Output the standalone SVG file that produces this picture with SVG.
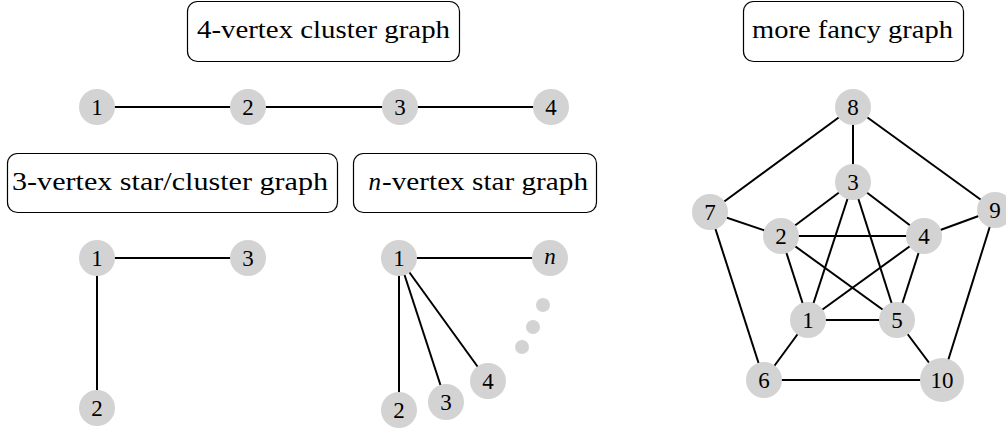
<svg xmlns="http://www.w3.org/2000/svg" width="1006" height="432" viewBox="0 0 1006 432">
<style>
.box{fill:#fff;stroke:#000;stroke-width:1.2}
.title{font-family:'Liberation Serif','Times New Roman','DejaVu Serif',serif;font-size:25px;fill:#000}
.v{fill:#d3d3d3}
.lbl{font-family:'Liberation Serif','Times New Roman','DejaVu Serif',serif;font-size:23px;fill:#000;text-anchor:middle}
.e line{stroke:#000;stroke-width:2}
</style>
<rect width="1006" height="432" fill="#fff"/>
<g id="title1"><rect class="box" x="187.5" y="1.5" width="272" height="60" rx="10"/><text class="title" x="197" y="38" textLength="253" lengthAdjust="spacingAndGlyphs">4-vertex cluster graph</text></g>
<g id="title2"><rect class="box" x="7.5" y="153.5" width="330" height="59" rx="10"/><text class="title" x="12" y="190" textLength="316" lengthAdjust="spacingAndGlyphs">3-vertex star/cluster graph</text></g>
<g id="title3"><rect class="box" x="353.5" y="153.5" width="243" height="59" rx="10"/><text class="title" x="381" y="190" font-style="italic" text-anchor="end">n</text><text class="title" x="382" y="190" textLength="206" lengthAdjust="spacingAndGlyphs">-vertex star graph</text></g>
<g id="title4"><rect class="box" x="743.5" y="1.5" width="220" height="60" rx="10"/><text class="title" x="752" y="38" textLength="201" lengthAdjust="spacingAndGlyphs">more fancy graph</text></g>
<g id="connectors" class="e">
<line x1="97" y1="107" x2="248" y2="107"/>
<line x1="248" y1="107" x2="400" y2="107"/>
<line x1="400" y1="107" x2="551" y2="107"/>
<line x1="97" y1="258" x2="248" y2="258"/>
<line x1="97" y1="258" x2="97" y2="408"/>
<line x1="399" y1="258" x2="550" y2="258"/>
<line x1="399" y1="258" x2="399" y2="410"/>
<line x1="399" y1="258" x2="446" y2="402"/>
<line x1="399" y1="258" x2="488" y2="381"/>
<line x1="853" y1="107" x2="853" y2="182"/>
<line x1="853" y1="107" x2="710" y2="212"/>
<line x1="853" y1="107" x2="995" y2="210"/>
<line x1="710" y1="212" x2="781" y2="236"/>
<line x1="710" y1="212" x2="764" y2="380"/>
<line x1="995" y1="210" x2="924" y2="236"/>
<line x1="995" y1="210" x2="942" y2="380"/>
<line x1="764" y1="380" x2="942" y2="380"/>
<line x1="764" y1="380" x2="808" y2="320"/>
<line x1="942" y1="380" x2="897" y2="320"/>
<line x1="853" y1="182" x2="781" y2="236"/>
<line x1="853" y1="182" x2="924" y2="236"/>
<line x1="853" y1="182" x2="808" y2="320"/>
<line x1="853" y1="182" x2="897" y2="320"/>
<line x1="781" y1="236" x2="924" y2="236"/>
<line x1="781" y1="236" x2="808" y2="320"/>
<line x1="781" y1="236" x2="897" y2="320"/>
<line x1="924" y1="236" x2="808" y2="320"/>
<line x1="924" y1="236" x2="897" y2="320"/>
<line x1="808" y1="320" x2="897" y2="320"/>
</g>
<g id="a1"><circle class="v" cx="97" cy="107" r="18"/><text class="lbl" x="97" y="115">1</text></g>
<g id="a2"><circle class="v" cx="248" cy="107" r="18"/><text class="lbl" x="248" y="115">2</text></g>
<g id="a3"><circle class="v" cx="400" cy="107" r="18"/><text class="lbl" x="400" y="115">3</text></g>
<g id="a4"><circle class="v" cx="551" cy="107" r="18"/><text class="lbl" x="551" y="115">4</text></g>
<g id="b1"><circle class="v" cx="97" cy="258" r="18"/><text class="lbl" x="97" y="266">1</text></g>
<g id="b3"><circle class="v" cx="248" cy="258" r="18"/><text class="lbl" x="248" y="266">3</text></g>
<g id="b2"><circle class="v" cx="97" cy="408" r="18"/><text class="lbl" x="97" y="416">2</text></g>
<g id="c1"><circle class="v" cx="399" cy="258" r="18"/><text class="lbl" x="399" y="266">1</text></g>
<g id="cn"><circle class="v" cx="550" cy="258" r="18"/><text class="lbl" x="550" y="264" font-style="italic">n</text></g>
<g id="c2"><circle class="v" cx="399" cy="410" r="18"/><text class="lbl" x="399" y="418">2</text></g>
<g id="c3"><circle class="v" cx="446" cy="402" r="18"/><text class="lbl" x="446" y="410">3</text></g>
<g id="c4"><circle class="v" cx="488" cy="381" r="18"/><text class="lbl" x="488" y="389">4</text></g>
<g id="dots"><circle class="v" cx="543" cy="305" r="7"/><circle class="v" cx="533" cy="327" r="7"/><circle class="v" cx="522" cy="347" r="7"/></g>
<g id="d8"><circle class="v" cx="853" cy="107" r="18"/><text class="lbl" x="853" y="115">8</text></g>
<g id="d3"><circle class="v" cx="853" cy="182" r="18"/><text class="lbl" x="853" y="190">3</text></g>
<g id="d7"><circle class="v" cx="710" cy="212" r="18"/><text class="lbl" x="710" y="220">7</text></g>
<g id="d9"><circle class="v" cx="995" cy="210" r="18"/><text class="lbl" x="995" y="218">9</text></g>
<g id="d2"><circle class="v" cx="781" cy="236" r="18"/><text class="lbl" x="781" y="244">2</text></g>
<g id="d4"><circle class="v" cx="924" cy="236" r="18"/><text class="lbl" x="924" y="244">4</text></g>
<g id="d1"><circle class="v" cx="808" cy="320" r="18"/><text class="lbl" x="808" y="328">1</text></g>
<g id="d5"><circle class="v" cx="897" cy="320" r="18"/><text class="lbl" x="897" y="328">5</text></g>
<g id="d6"><circle class="v" cx="764" cy="380" r="18"/><text class="lbl" x="764" y="388">6</text></g>
<g id="d10"><circle class="v" cx="942" cy="380" r="22"/><text class="lbl" x="942" y="388">10</text></g>
</svg>
